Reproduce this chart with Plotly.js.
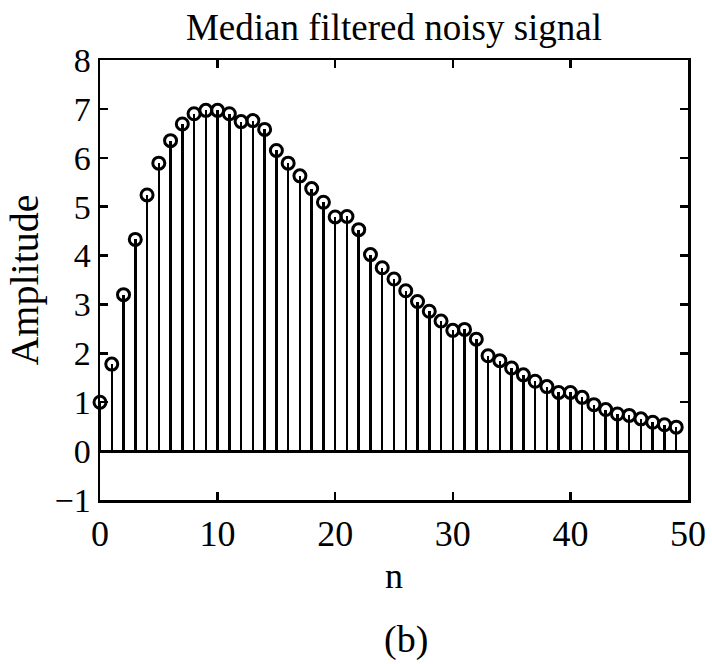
<!DOCTYPE html>
<html>
<head>
<meta charset="utf-8">
<script src="https://cdn.plot.ly/plotly-3.0.1.min.js"></script>
<style>
html,body{margin:0;padding:0;background:#fff;}
#chart{width:712px;height:664px;}
</style>
</head>
<body>
<div id="chart"></div>
<script>
const n = [0,1,2,3,4,5,6,7,8,9,10,11,12,13,14,15,16,17,18,19,20,21,22,23,24,25,26,27,28,29,30,31,32,33,34,35,36,37,38,39,40,41,42,43,44,45,46,47,48,49];
const amplitude = [1.0,1.78,3.2,4.33,5.24,5.89,6.35,6.69,6.9,6.97,6.97,6.9,6.74,6.76,6.58,6.15,5.89,5.63,5.37,5.09,4.79,4.80,4.53,4.02,3.75,3.52,3.28,3.06,2.86,2.66,2.47,2.49,2.29,1.95,1.85,1.7,1.56,1.43,1.32,1.2,1.2,1.1,0.95,0.85,0.76,0.73,0.66,0.59,0.54,0.49];
const xTicks = [0,10,20,30,40,50];
const yTicks = [-1,0,1,2,3,4,5,6,7,8];
const titleText = 'Median filtered noisy signal';
const xLabel = 'n';
const yLabel = 'Amplitude';
const caption = '(b)';

const FONT = 'Liberation Serif, Times New Roman, serif';

const stems = {
  type: 'bar', x: n, y: amplitude, width: 0.21,
  marker: {color: '#000', line: {width: 0}},
  hoverinfo: 'skip', showlegend: false
};
const heads = {
  type: 'scatter', mode: 'markers', x: n, y: amplitude,
  marker: {symbol: 'circle-open', size: 12, color: '#000', line: {width: 3, color: '#000'}},
  showlegend: false, cliponaxis: false
};

const layout = {
  width: 712, height: 664,
  margin: {l: 100, r: 24, t: 60, b: 164},
  paper_bgcolor: '#fff', plot_bgcolor: '#fff',
  font: {family: FONT, color: '#000', size: 32},
  showlegend: false,
  bargap: 0,
  title: {text: titleText, font: {family: FONT, size: 37, color: '#000'},
          x: 0.5, xref: 'paper', xanchor: 'center', y: 0.96, yref: 'container', yanchor: 'middle'},
  xaxis: {
    range: [0, 50], tickvals: xTicks, ticktext: xTicks.map(String),
    ticks: 'inside', ticklen: 8, tickwidth: 2.5, tickcolor: '#000',
    showline: true, linewidth: 2.5, linecolor: '#000', mirror: 'ticks',
    showgrid: false, zeroline: false,
    tickfont: {family: FONT, size: 36, color: '#000'},
    title: {text: xLabel, font: {family: FONT, size: 36, color: '#000'}, standoff: 10}
  },
  yaxis: {
    range: [-1, 8], tickvals: yTicks, ticktext: yTicks.map(v => v < 0 ? '\u2212' + Math.abs(v) : String(v)),
    ticks: 'inside', ticklen: 8, tickwidth: 2.5, tickcolor: '#000',
    showline: true, linewidth: 2.5, linecolor: '#000', mirror: 'ticks',
    showgrid: false, zeroline: true, zerolinecolor: '#000', zerolinewidth: 3,
    tickfont: {family: FONT, size: 34, color: '#000'},
    title: {text: yLabel, font: {family: FONT, size: 40, color: '#000'}, standoff: 4}
  },
  annotations: [{
    text: caption, xref: 'paper', yref: 'paper', x: 0.52, y: -0.318,
    xanchor: 'center', yanchor: 'middle', showarrow: false,
    font: {family: FONT, size: 38, color: '#000'}
  }]
};

Plotly.newPlot('chart', [stems, heads], layout, {displayModeBar: false, staticPlot: true});
</script>
</body>
</html>
